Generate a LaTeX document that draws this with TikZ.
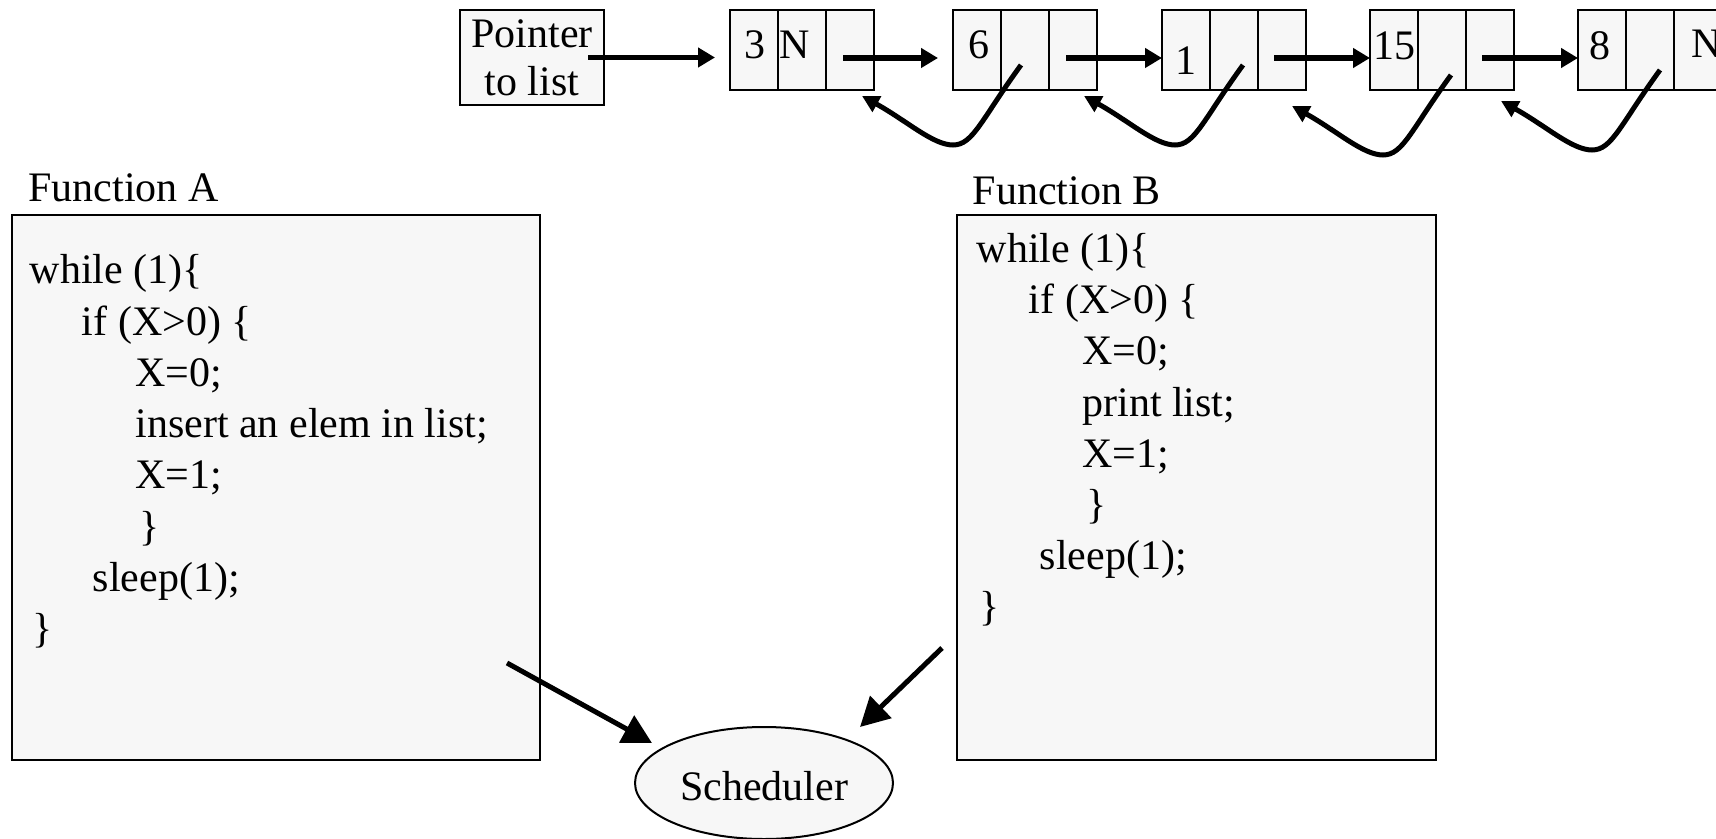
\documentclass[tikz,border=0pt]{standalone}
\usepackage{fontspec}
\setmainfont{Liberation Serif}
\usetikzlibrary{arrows.meta,shapes.geometric}
\definecolor{boxfill}{RGB}{247,247,247}
\begin{document}
\begin{tikzpicture}[x=0.5pt,y=-0.5pt,
  every node/.style={font=\fontsize{21pt}{24pt}\selectfont},
  box/.style={draw, line width=1pt, fill=boxfill, inner sep=0pt, outer sep=0pt},
  cell/.style={box, minimum width=24pt, minimum height=40pt},
  val/.style={anchor=base, inner sep=0pt},
  code/.style={anchor=base west, inner sep=0pt},
  fwd/.style={line width=2.6pt, -{Triangle[length=8.5pt,width=9.5pt]}},
  back/.style={line width=2.5pt, -{Triangle[length=8.5pt,width=8.5pt]}},
  big/.style={line width=2.5pt, -{Triangle[length=14.5pt,width=15pt]}},
]
\useasboundingbox (0,0) rectangle (1716,839);
\clip (0,0) rectangle (1716,839);

% head pointer
\node[box, minimum width=72pt, minimum height=47.5pt, align=center] (ptr) at (532,57.5) {Pointer\\to list};

% list elements: three cells each
\foreach \k/\lx in {1/730,2/953,3/1162,4/1370,5/1578} {
  \node[cell] (n\k a) at (\lx+24,50) {};
  \node[cell] (n\k b) at (\lx+72,50) {};
  \node[cell] (n\k c) at (\lx+120,50) {};
}

% values
\node[val] (v1) at (755,59) {3};
\node[code] (v1n) at (779,59) {N};
\node[val] (v2) at (979,59) {6};
\node[val] (v3) at (1186,75) {1};
\node[val] (v4) at (1394,60) {15};
\node[val] (v5) at (1600,60) {8};
\node[code] (v5n) at (1691,58) {N};

% forward links
\draw[fwd] ([shift={(-16,0)}]ptr.east) -- ([shift={(-15,7.5)}]n1a.west);
\draw[fwd] ([shift={(17,8)}]n1c.west) -- ([shift={(-15,8)}]n2a.west);
\draw[fwd] ([shift={(17,8)}]n2c.west) -- ([shift={(0,8)}]n3a.west);
\draw[fwd] ([shift={(16,8)}]n3c.west) -- ([shift={(0,8)}]n4a.west);
\draw[fwd] ([shift={(16,8)}]n4c.west) -- ([shift={(0,8)}]n5a.west);

% backward links
\foreach \k/\dx/\dy in {2/-4/15, 3/9/15, 4/9/25, 5/10/20} {
  \coordinate (s\k) at ([shift={(\dx,\dy)}]n\k b.center);
  \coordinate (m\k) at ([shift={(-68,80)}]s\k);
  \coordinate (t\k) at ([shift={(-159,31)}]s\k);
  \draw[back] (s\k) .. controls ([shift={(-40,55)}]s\k) and ([shift={(20,0)}]m\k) .. (m\k)
                    .. controls ([shift={(-20,0)}]m\k) and ([shift={(45,25)}]t\k) .. (t\k);
}

% the two functions
\node[box, minimum width=263.75pt, minimum height=272pt] (fa) at (275.75,487.5) {};
\node[box, minimum width=239.75pt, minimum height=272pt] (fb) at (1196.25,487.5) {};
\node[code] (fal) at (28,202) {Function A};
\node[code] (fbl) at (972.5,205) {Function B};

\foreach \i/\dx/\txt in {0/0/{while (1)\{}, 1/52/{if (X>0) \{}, 2/105.5/{X=0;},
    3/105.5/{insert an elem in list;}, 4/105.5/{X=1;}, 5/110/{\}}, 6/63/{sleep(1);}, 7/3/{\}}}
  \node[code] (ca\i) at (29.5+\dx,284+\i*51.2) {\txt};

\foreach \i/\dx/\txt in {0/0/{while (1)\{}, 1/52/{if (X>0) \{}, 2/105.5/{X=0;},
    3/105.5/{print list;}, 4/105.5/{X=1;}, 5/110/{\}}, 6/63/{sleep(1);}, 7/3/{\}}}
  \node[code] (cb\i) at (976.5+\dx,262.5+\i*51.2) {\txt};

% scheduler
\node[box, ellipse, minimum width=129pt, minimum height=56pt] (sched) at (764,783) {};
\node[val] (schedtxt) at (764,800) {Scheduler};
\coordinate (aout) at ([shift={(-32.5,-96.5)}]fa.south east);
\coordinate (ain) at ([shift={(-112,-40)}]sched.center);
\coordinate (bout) at ([shift={(-14.5,-111.5)}]fb.south west);
\coordinate (bin) at ([shift={(96,-56)}]sched.center);
\draw[big] (aout) -- (ain);
\draw[big] (bout) -- (bin);
\end{tikzpicture}
\end{document}
